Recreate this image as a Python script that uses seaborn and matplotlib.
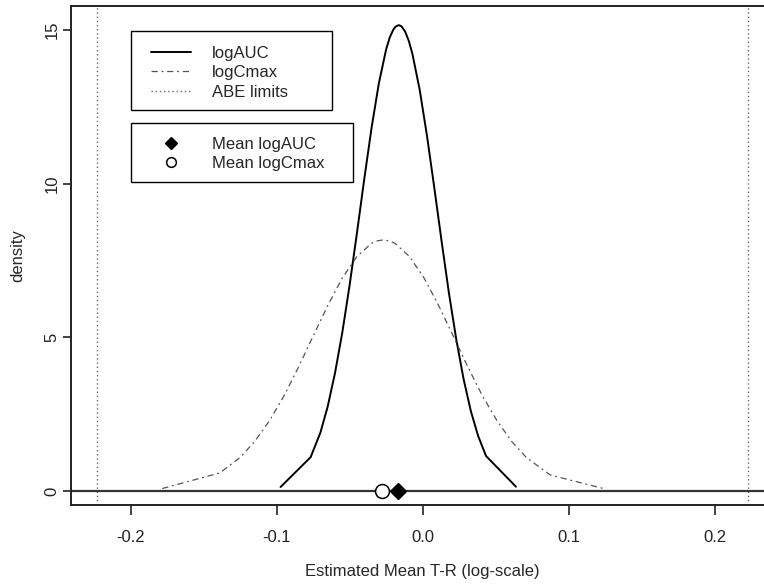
import numpy as np
import pandas as pd
import seaborn as sns
import matplotlib
matplotlib.use("Agg")
import matplotlib.pyplot as plt
from matplotlib.lines import Line2D
from matplotlib.patches import Rectangle

# density of estimated mean T-R
auc_x = [-0.0973, -0.0767, -0.0700, -0.0650, -0.0600, -0.0550, -0.0500, -0.0450,
         -0.0400, -0.0350, -0.0300, -0.0250, -0.0225, -0.0200, -0.0185, -0.0164,
         -0.0145, -0.0120, -0.0095, -0.0070, -0.0020, 0.0030, 0.0080, 0.0130,
         0.0180, 0.0230, 0.0280, 0.0330, 0.0380, 0.0434, 0.0639]
auc_y = [0.13, 1.10, 1.90, 2.75, 3.84, 5.16, 6.70, 8.39,
         10.14, 11.81, 13.26, 14.37, 14.76, 15.02, 15.11, 15.16,
         15.12, 14.95, 14.65, 14.22, 13.05, 11.55, 9.86, 8.12,
         6.44, 4.94, 3.65, 2.60, 1.79, 1.14, 0.14]

cmax_x = [-0.1783, -0.1388, -0.125, -0.115, -0.105, -0.095, -0.085, -0.075,
          -0.065, -0.055, -0.045, -0.035, -0.031, -0.027, -0.023, -0.019,
          -0.009, 0.001, 0.011, 0.021, 0.031, 0.041, 0.051, 0.061,
          0.071, 0.0874, 0.1247]
cmax_y = [0.08, 0.59, 1.09, 1.61, 2.28, 3.09, 4.03, 5.04,
          6.03, 6.93, 7.63, 8.06, 8.14, 8.17, 8.14, 8.06,
          7.63, 6.93, 6.03, 5.04, 4.03, 3.09, 2.28, 1.61,
          1.09, 0.52, 0.07]

abe_limits = [-0.2231, 0.2231]
mean_auc = -0.0169
mean_cmax = -0.0279

x_ticks = [-0.2, -0.1, 0.0, 0.1, 0.2]
y_ticks = [0, 5, 10, 15]

sns.set_style("ticks")
plt.rcParams["font.family"] = ["Liberation Sans", "DejaVu Sans"]

W, H = 764, 586
fig = plt.figure(figsize=(W / 100, H / 100), dpi=100)
ax = fig.add_axes([0.0925, 0.1382, 0.9214, 0.8515])

df_auc = pd.DataFrame({"x": auc_x, "y": auc_y})
df_cmax = pd.DataFrame({"x": cmax_x, "y": cmax_y})

sns.lineplot(data=df_auc, x="x", y="y", ax=ax, color="black", linewidth=1.4,
             sort=False, estimator=None)
sns.lineplot(data=df_cmax, x="x", y="y", ax=ax, color="#555555",
             linewidth=0.9, sort=False, estimator=None)
ax.lines[-1].set_dashes((5, 3, 1.5, 3))

for v in abe_limits:
    ax.axvline(v, color="#666666", linewidth=1.0, linestyle=(0, (1, 2)))
ax.axhline(0, color="#333333", linewidth=1.6)

ax.plot([mean_auc], [0], marker="D", markersize=8, color="black",
        linestyle="none", zorder=5)
ax.plot([mean_cmax], [0], marker="o", markersize=10, markerfacecolor="white",
        markeredgecolor="black", markeredgewidth=1.1, linestyle="none", zorder=5)

ax.set_xlim(-0.241, 0.241)
ax.set_ylim(-0.456, 15.78)
ax.set_xticks(x_ticks)
ax.set_xticklabels(["-0.2", "-0.1", "0.0", "0.1", "0.2"])
ax.set_yticks(y_ticks)
ax.set_yticklabels([str(t) for t in y_ticks], rotation=90, va="center")
ax.tick_params(axis="both", direction="out", width=1.2,
               labelsize=12, colors="#222222")
ax.tick_params(axis="x", length=7, pad=11)
ax.tick_params(axis="y", length=6, pad=2)
for s in ax.spines.values():
    s.set_linewidth(1.4)
    s.set_color("#222222")
ax.set_xlabel("Estimated Mean T-R (log-scale)", fontsize=12, labelpad=14)
ax.set_ylabel("density", fontsize=12, labelpad=14)

# legend boxes (R style: fixed frames)
for x0, y0, x1, y1 in [(130.7, 30.7, 332.3, 110.0), (130.7, 122.7, 352.7, 182.0)]:
    fig.add_artist(Rectangle((x0 / W, 1 - y1 / H), (x1 - x0) / W, (y1 - y0) / H,
                             transform=fig.transFigure, fill=True,
                             facecolor="white", edgecolor="black", linewidth=1.0,
                             zorder=3))

h1 = [Line2D([], [], color="black", linewidth=1.4),
      Line2D([], [], color="#555555", linewidth=0.9, dashes=(5, 3, 1.5, 3)),
      Line2D([], [], color="#666666", linewidth=1.0, linestyle=(0, (1, 2)))]
leg1 = fig.legend(h1, ["logAUC", "logCmax", "ABE limits"],
                  loc="upper left", bbox_to_anchor=(151 / W, 1 - 46 / H),
                  frameon=False, fontsize=12, handlelength=2.4,
                  handletextpad=1.24, labelspacing=0.26, borderpad=0,
                  borderaxespad=0)
leg1.set_zorder(4)

h2 = [Line2D([], [], marker="D", markersize=6, color="black", linestyle="none"),
      Line2D([], [], marker="o", markersize=7, markerfacecolor="white",
             markeredgecolor="black", markeredgewidth=1.1, linestyle="none")]
leg2 = fig.legend(h2, ["Mean logAUC", "Mean logCmax"],
                  loc="upper left", bbox_to_anchor=(151 / W, 1 - 137 / H),
                  frameon=False, fontsize=12, handlelength=2.4,
                  handletextpad=1.24, labelspacing=0.26, borderpad=0,
                  borderaxespad=0)
leg2.set_zorder(4)

fig.savefig("out.png", dpi=100)
